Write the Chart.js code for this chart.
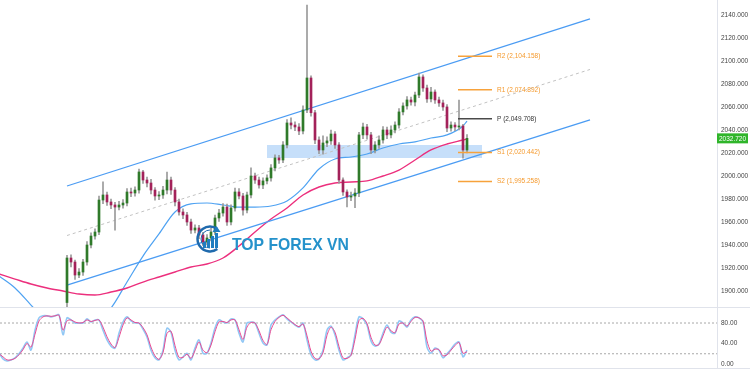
<!DOCTYPE html>
<html>
<head>
<meta charset="utf-8">
<script src="https://cdn.jsdelivr.net/npm/chart.js@4.4.0/dist/chart.umd.min.js"></script>
<style>
  html, body { margin:0; padding:0; background:#fff; }
  #wrap { position:relative; width:750px; height:375px; overflow:hidden; }
  #price { position:absolute; left:0; top:0; }
  #stoch { position:absolute; left:0; top:308px; }
  .sep { position:absolute; left:0; width:750px; height:1px; background:#e0e3eb; }
</style>
</head>
<body>
<div id="wrap">
  <canvas id="price" width="750" height="307"></canvas>
  <div class="sep" style="top:307px"></div>
  <canvas id="stoch" width="750" height="60"></canvas>
  <div class="sep" style="top:368px"></div>
</div>
<script>
// ---- candles (bar index 0..100)
let opens=[1890.0,1928.7,1925.2,1913.9,1916.5,1925.2,1940.0,1947.8,1951.3,1979.1,
 1983.5,1977.4,1974.8,1973.0,1974.8,1976.5,1986.1,1985.2,1987.8,2003.5,
 1996.5,1993.9,1987.8,1982.6,1983.5,1987.8,1996.5,1987.8,1977.4,1968.7,
 1966.1,1960.0,1953.0,1954.8,1948.7,1942.6,1946.1,1951.3,1963.5,1967.8,
 1973.0,1960.0,1972.2,1986.1,1982.6,1970.4,1983.5,2000.0,1996.5,1992.2,
 1995.7,1998.3,2007.0,2015.7,2013.9,2027.0,2046.1,2044.3,2042.6,2039.1,
 2057.4,2085.2,2055.0,2031.3,2022.6,2028.7,2030.5,2036.5,2027.0,1996.5,
 1986.1,1981.7,1982.6,1985.2,2035.7,2042.6,2035.7,2022.6,2027.0,2031.3,
 2040.0,2035.7,2040.0,2044.3,2055.7,2060.9,2066.1,2064.3,2070.4,2086.1,
 2076.5,2067.0,2073.0,2066.1,2063.5,2060.0,2041.7,2044.3,2042.6,2043.5,
 2022.6];
let closes=[1928.7,1925.2,1913.9,1916.5,1925.2,1940.0,1947.8,1951.3,1979.1,1983.5,
 1977.4,1974.8,1973.0,1974.8,1976.5,1986.1,1985.2,1987.8,2003.5,1996.5,
 1993.9,1987.8,1982.6,1983.5,1987.8,1996.5,1987.8,1977.4,1968.7,1966.1,
 1960.0,1953.0,1954.8,1948.7,1942.6,1946.1,1951.3,1963.5,1967.8,1973.0,
 1960.0,1972.2,1986.1,1982.6,1970.4,1983.5,2000.0,1996.5,1992.2,1995.7,
 1998.3,2007.0,2015.7,2013.9,2027.0,2046.1,2044.3,2042.6,2039.1,2057.4,
 2085.2,2055.0,2031.3,2022.6,2028.7,2030.5,2036.5,2027.0,1996.5,1986.1,
 1981.7,1982.6,1985.2,2035.7,2042.6,2035.7,2022.6,2027.0,2031.3,2040.0,
 2035.7,2040.0,2044.3,2055.7,2060.9,2066.1,2064.3,2070.4,2086.1,2076.5,
 2067.0,2073.0,2066.1,2063.5,2060.0,2041.7,2044.3,2042.6,2043.5,2022.6,
 2032.72];
let highs=[1931.0,1931.5,1927.0,1919.5,1927.5,1943.0,1950.5,1954.0,1982.5,1995.0,
 1986.0,1980.0,1977.0,1978.0,1979.5,1989.0,1989.5,1990.5,2006.0,2005.0,
 1999.0,1997.0,1990.0,1986.5,1991.0,2003.5,1999.0,1990.0,1980.0,1971.5,
 1968.5,1962.5,1957.5,1957.0,1951.0,1949.0,1954.5,1966.0,1971.0,1976.0,
 1975.5,1975.0,1989.5,1989.0,1985.0,1986.0,2007.0,2002.5,1999.0,1998.5,
 2001.0,2010.0,2018.5,2018.0,2030.0,2049.0,2050.5,2047.0,2045.5,2061.0,
 2148.5,2087.0,2057.0,2034.0,2035.0,2034.0,2040.0,2038.5,2029.0,1998.5,
 1988.0,1986.0,1989.0,2038.0,2046.0,2045.0,2038.0,2030.0,2035.0,2043.0,
 2042.5,2043.5,2047.0,2058.5,2063.5,2069.0,2068.5,2073.0,2089.5,2088.0,
 2079.0,2077.0,2075.0,2068.5,2066.0,2062.0,2047.0,2046.5,2066.0,2045.0,
 2036.0];
let lows=[1882.0,1921.0,1910.0,1911.5,1913.5,1922.5,1937.5,1945.0,1949.0,1976.0,
 1974.5,1971.5,1953.0,1970.5,1972.0,1974.0,1982.0,1982.5,1985.0,1993.5,
 1990.5,1984.5,1979.0,1979.5,1980.5,1984.5,1984.0,1974.0,1966.0,1963.0,
 1957.0,1950.0,1950.5,1945.5,1939.5,1940.0,1943.5,1949.0,1960.5,1965.0,
 1957.0,1957.5,1969.5,1980.0,1966.0,1968.0,1981.0,1993.5,1989.5,1989.0,
 1993.0,1995.5,2004.5,2011.0,2011.5,2024.5,2041.0,2039.5,2036.0,2036.5,
 2055.0,2052.0,2028.0,2019.5,2019.0,2025.5,2027.5,2024.0,1993.5,1983.0,
 1973.0,1978.5,1972.5,1982.0,2032.5,2032.0,2019.5,2020.0,2024.0,2028.5,
 2032.5,2033.0,2037.5,2041.5,2053.0,2058.0,2061.5,2061.0,2068.0,2073.5,
 2064.0,2064.5,2063.0,2060.5,2057.0,2038.5,2039.0,2039.5,2040.0,2015.5,
 2020.0];

// ---- moving averages, sampled every 4 bars
let maBars=[-17,-13,-9,-5,-1,3,7,11,15,19,23,27,31,35,39,43,47,51,55,59,63,67,71,75,79,83,87,91,95,99,100];
let maFast=[1913.0,1902.6,1887.8,1873.0,1862.6,1863.5,1873.0,1885.2,1907.8,1930.4,
 1949.6,1968.7,1975.7,1976.5,1974.8,1973.0,1973.0,1973.9,1978.3,1989.6,
 2006.1,2014.8,2016.5,2019.1,2024.3,2027.8,2029.6,2033.0,2035.7,2043.5,2047.8];
let maSlow=[1914.8,1910.4,1906.1,1902.6,1900.0,1897.4,1896.5,1899.1,1902.6,1907.8,
 1912.2,1916.5,1920.9,1923.5,1928.7,1939.1,1951.3,1962.6,1972.2,1983.5,
 1990.4,1993.9,1994.8,1995.7,2000.0,2005.2,2013.9,2022.6,2027.8,2031.3,2032.2];

// ---- channel (start bar, end bar)
let channelBars=[0,130.75];
let channelUpper=[1991.3,2136.5];
let channelLower=[1905.2,2048.7];
let channelMid=[1948.25,2092.6];

// ---- support zone and pivots
let zoneBars=[50,103.75];
let zoneTop=2027.0, zoneBottom=2015.65;
let pivotBars=[97.75,106.25];
let pivotNames=['R2','R1','P','S1','S2'];
let pivotLevels=[2104.158,2074.892,2049.708,2020.442,1995.258];

// ---- stochastic, bars -17..100
let stochStart=-17;
let stochK=[22,10,6,8,12,20,31,43,27,66,90,94,94,92,94,96,57,90,86,80,80,80,88,82,86,86,
 66,47,35,31,60,82,92,84,80,80,68,53,27,12,8,27,70,62,27,8,14,21,8,31,47,21,21,41,70,86,
 82,80,88,86,60,43,80,82,80,60,41,37,76,86,92,96,88,82,76,72,80,47,18,8,10,27,66,74,57,27,
 8,12,18,57,92,88,76,45,35,39,60,76,62,60,84,80,72,86,92,90,82,33,21,31,27,12,20,29,39,43,14,27];
let stochD=[20,14,8,8,11,18,28,40,33,58,84,92,94,93,94,95,66,84,86,82,80,81,86,83,85,86,
 72,53,39,32,52,76,90,86,81,80,71,57,33,16,9,22,60,64,36,13,13,19,11,26,43,27,22,37,63,82,
 83,81,86,86,67,48,72,81,80,65,46,38,67,83,91,95,90,83,77,73,78,55,25,11,10,22,56,72,62,34,
 12,11,17,48,85,89,79,52,37,38,55,72,65,61,78,80,74,83,91,90,84,45,25,29,28,16,18,27,36,42,21,24];
let stochLevels=[80,20];

let xMin=-16.75, xMax=162.5;
let lastPrice=closes[closes.length-1];

let candleIdx=closes.map((c,i)=>i);
let wickData=candleIdx.map(i=>({x:i,y:[lows[i],highs[i]]}));
let bodyData=candleIdx.map(i=>({x:i,y:[opens[i],closes[i]]}));
let line2=(xs,ys)=>xs.map((x,i)=>({x:x,y:ys[i]}));

let axisFont={family:'"Liberation Sans", Arial, sans-serif',size:6.5};
// right axis: fixed width, no extra top/bottom padding
let fitAxis=s=>{s.width=33;s.paddingTop=0;s.paddingBottom=0;};

let pivotDatasets=pivotLevels.map((lv,k)=>({
    type:'line',
    data:line2(pivotBars,[lv,lv]),
    borderColor:pivotNames[k]=='P'?'#4a4a4a':'#f7a23b',
    borderWidth:1.5,
    pointRadius:0,
    order:2
}));

const overlayPlugin={
    id:'overlay',
    afterDatasetsDraw(chart){
        let ctx=chart.ctx;
        let xs=chart.scales.x, ys=chart.scales.y;
        ctx.save();
        ctx.font='6.5px "Liberation Sans", Arial, sans-serif';
        ctx.textBaseline='middle';
        pivotLevels.forEach((lv,k)=>{
            ctx.fillStyle=pivotNames[k]=='P'?'#333':'#f59a2e';
            let txt=pivotNames[k]+' ('+lv.toLocaleString('en-US',{minimumFractionDigits:3})+')';
            ctx.fillText(txt,xs.getPixelForValue(pivotBars[1])+5,ys.getPixelForValue(lv));
        });
        ctx.restore();
    },
    afterDraw(chart){
        let ctx=chart.ctx;
        let ys=chart.scales.y;
        let area=chart.chartArea;
        // last price tag
        let py=ys.getPixelForValue(lastPrice);
        ctx.save();
        ctx.fillStyle='#2fb52a';
        ctx.fillRect(area.right,py-5,31,10);
        ctx.fillStyle='#fff';
        ctx.font='6.5px "Liberation Sans", Arial, sans-serif';
        ctx.textBaseline='middle';
        ctx.textAlign='center';
        ctx.fillText(lastPrice.toFixed(3),area.right+15.5,py+0.5);
        // watermark logo
        ctx.textAlign='left';
        ctx.textBaseline='alphabetic';
        let size=16;
        ctx.font='bold '+size+'px "Liberation Sans", Arial, sans-serif';
        let w=ctx.measureText('TOP FOREX VN').width;
        size=size*117/w;
        ctx.font='bold '+size.toFixed(2)+'px "Liberation Sans", Arial, sans-serif';
        ctx.fillStyle='#2592cb';
        ctx.fillText('TOP FOREX VN',232,250);
        ctx.strokeStyle='#1f6aad';
        ctx.lineWidth=2.5;
        ctx.beginPath();
        ctx.arc(210,239,12.5,Math.PI*0.3,Math.PI*1.7);
        ctx.stroke();
        ctx.lineWidth=1;
        ctx.beginPath();
        ctx.arc(210,239,9,Math.PI*0.5,Math.PI*1.5);
        ctx.stroke();
        ctx.fillStyle='#1f7dc0';
        [[203,6],[207,9],[211,12],[215,15]].forEach(b=>{ctx.fillRect(b[0],248-b[1],3,b[1]);});
        ctx.beginPath();
        ctx.moveTo(216.5,226);ctx.lineTo(220.5,232);ctx.lineTo(212.5,232);ctx.closePath();
        ctx.fill();
        ctx.restore();
    }
};

new Chart(document.getElementById('price').getContext('2d'),{
    type:'bar',
    data:{
        datasets:[
            {type:'line',data:line2(zoneBars,[zoneTop,zoneTop]),borderWidth:0,pointRadius:0,
             fill:'+1',backgroundColor:'rgba(66,150,240,0.30)',order:20},
            {type:'line',data:line2(zoneBars,[zoneBottom,zoneBottom]),borderWidth:0,pointRadius:0,order:21},
            {type:'line',data:line2(maBars,maSlow),borderColor:'#ec2f7d',borderWidth:1.4,pointRadius:0,
             cubicInterpolationMode:'monotone',order:9},
            {type:'line',data:line2(maBars,maFast),borderColor:'#4ea2f2',borderWidth:1.2,pointRadius:0,
             cubicInterpolationMode:'monotone',order:9},
            {type:'line',data:line2(channelBars,channelUpper),borderColor:'#4b9cf3',borderWidth:1.3,pointRadius:0,order:8},
            {type:'line',data:line2(channelBars,channelLower),borderColor:'#4b9cf3',borderWidth:1.3,pointRadius:0,order:8},
            {type:'line',data:line2(channelBars,channelMid),borderColor:'#c2c2c2',borderWidth:1,borderDash:[3,3],pointRadius:0,order:8},
            {data:wickData,backgroundColor:'#9a9a9a',barThickness:1,grouped:false,order:5},
            {data:bodyData,backgroundColor:ctx=>closes[ctx.dataIndex]>=opens[ctx.dataIndex]?'#2f7a2a':'#a3225a',
             barThickness:2,minBarLength:1,grouped:false,order:4},
            ...pivotDatasets
        ]
    },
    options:{
        responsive:false,
        animation:false,
        layout:{padding:0},
        plugins:{legend:{display:false},tooltip:{enabled:false}},
        scales:{
            x:{type:'linear',min:xMin,max:xMax,offset:false,display:false},
            y:{position:'right',min:1886.1,max:2153.0,
               afterFit:fitAxis,
               grid:{display:false,drawTicks:false},
               border:{display:true,color:'#e0e3eb'},
               ticks:{stepSize:20,includeBounds:false,padding:4,color:'#444',font:axisFont,
                      callback:v=>v.toFixed(3)}}
        }
    },
    plugins:[overlayPlugin]
});

let stochBars=stochK.map((v,i)=>stochStart+i);
new Chart(document.getElementById('stoch').getContext('2d'),{
    type:'line',
    data:{
        datasets:[
            {data:line2(stochBars,stochD),borderColor:'#ea4c92',borderWidth:1,pointRadius:0,tension:0.3},
            {data:line2(stochBars,stochK),borderColor:'#92c8f5',borderWidth:1.6,pointRadius:0,tension:0.3},
            ...stochLevels.map(lv=>({data:line2([xMin,xMax],[lv,lv]),borderColor:'#a8a8a8',borderWidth:1,
                borderDash:[2,2],pointRadius:0}))
        ]
    },
    options:{
        responsive:false,
        animation:false,
        layout:{padding:0},
        plugins:{legend:{display:false},tooltip:{enabled:false}},
        scales:{
            x:{type:'linear',min:xMin,max:xMax,offset:false,display:false},
            y:{position:'right',min:-7.8,max:109.3,
               afterFit:fitAxis,
               grid:{display:false,drawTicks:false},
               border:{display:true,color:'#e0e3eb'},
               ticks:{stepSize:40,includeBounds:false,padding:4,color:'#444',font:axisFont,
                      callback:v=>v.toFixed(2)}}
        }
    }
});
</script>
</body>
</html>
